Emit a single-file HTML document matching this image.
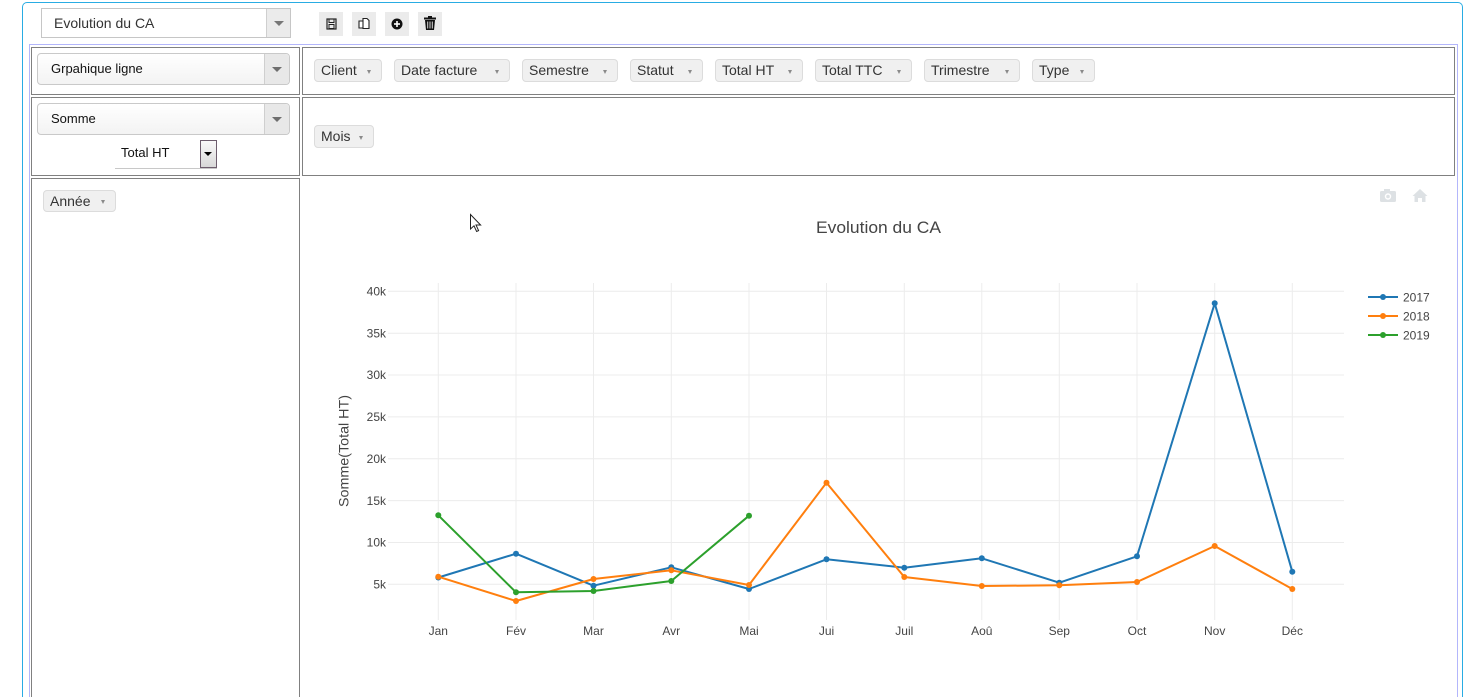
<!DOCTYPE html>
<html><head><meta charset="utf-8">
<style>
*{box-sizing:border-box;margin:0;padding:0}
html,body{width:1467px;height:697px;overflow:hidden;background:#fff;font-family:"Liberation Sans",Arial,sans-serif;}
#wrap{position:relative;width:1467px;height:697px;overflow:hidden}
.abs{position:absolute}
.outer{left:22px;top:2px;width:1441px;height:695px;border:1px solid #29ace3;border-bottom:none;border-radius:5px 5px 0 0}
.inner{left:29px;top:44px;width:1429px;height:653px;border:1px solid #b3b6fb;border-bottom:none}
.cell{border:1px solid #808080}
.sel{border:1px solid #c9c9c9;background:linear-gradient(#ffffff,#f3f3f3);border-radius:4px;font-size:13px;color:#111}
.sel .btn{position:absolute;right:0;top:0;bottom:0;width:25px;background:#e8e8e8;border-left:1px solid #cfcfcf;border-radius:0 4px 4px 0}
.tri{position:absolute;width:0;height:0;border-left:5px solid transparent;border-right:5px solid transparent;border-top:5px solid #6e6e6e}
.pill{position:absolute;height:23px;border:1px solid #dcdcdc;border-radius:4px;background:#f0f0f0;font-size:14px;color:#333;line-height:21px;padding-left:6px;white-space:nowrap}
.pill .c{position:absolute;right:10px;top:10px;width:0;height:0;border-left:2.5px solid transparent;border-right:2.5px solid transparent;border-top:4px solid #8a8a8a}
.ib{position:absolute;top:12px;width:24px;height:24px;background:#ebebeb}
</style></head><body>
<div id="wrap">
<div class="abs outer"></div>
<div class="abs inner"></div>

<!-- top select -->
<div class="abs" style="left:41px;top:8px;width:250px;height:30px;border:1px solid #c6c6c6;background:#fff;font-size:14px;color:#333;line-height:28px;padding-left:12px">Evolution du CA
 <div style="position:absolute;right:0;top:0;width:24px;height:28px;background:#ebebeb;border-left:1px solid #cfcfcf"><div class="tri" style="left:7px;top:12px;border-top-color:#777"></div></div>
</div>

<!-- icon buttons -->
<div class="ib" style="left:319px"><svg width="24" height="24"><rect x="8" y="7" width="9" height="10" fill="none" stroke="#222" stroke-width="1.2"/><rect x="10" y="7" width="5" height="3.5" fill="none" stroke="#222" stroke-width="1"/><rect x="10" y="12.5" width="5" height="4" fill="none" stroke="#222" stroke-width="1"/></svg></div>
<div class="ib" style="left:352px"><svg width="24" height="24"><path d="M7 9 h4 l2 2 v5 h-6z" fill="#fff" stroke="#222" stroke-width="1.1"/><path d="M11 6.5 h4 l2 2 v8 h-6z" fill="#fff" stroke="#222" stroke-width="1.1"/></svg></div>
<div class="ib" style="left:385px"><svg width="24" height="24"><circle cx="12" cy="12" r="5.5" fill="#111"/><rect x="9" y="11.2" width="6" height="1.6" fill="#fff"/><rect x="11.2" y="9" width="1.6" height="6" fill="#fff"/></svg></div>
<div class="ib" style="left:418px"><svg width="24" height="24"><rect x="6" y="5.5" width="12" height="2" fill="#111"/><rect x="10" y="4" width="4" height="2" fill="#111"/><path d="M7 8 h10 l-1 10 h-8z" fill="#111"/><rect x="9.2" y="9.5" width="1" height="7" fill="#ddd"/><rect x="11.5" y="9.5" width="1" height="7" fill="#ddd"/><rect x="13.8" y="9.5" width="1" height="7" fill="#ddd"/></svg></div>

<!-- left cells -->
<div class="abs cell" style="left:31px;top:47px;width:269px;height:48px"></div>
<div class="abs cell" style="left:31px;top:97px;width:269px;height:79px"></div>
<div class="abs cell" style="left:31px;top:178px;width:269px;height:519px;border-bottom:none"></div>
<!-- right cells -->
<div class="abs cell" style="left:302px;top:47px;width:1153px;height:48px"></div>
<div class="abs cell" style="left:302px;top:97px;width:1153px;height:79px"></div>

<div class="abs sel" style="left:37px;top:53px;width:253px;height:32px;line-height:30px;padding-left:13px">Grpahique ligne<div class="btn"><div class="tri" style="left:7px;top:13px"></div></div></div>
<div class="abs sel" style="left:37px;top:103px;width:253px;height:32px;line-height:30px;padding-left:13px">Somme<div class="btn"><div class="tri" style="left:7px;top:13px"></div></div></div>

<div class="abs" style="left:115px;top:140px;width:102px;height:29px;border-bottom:1px solid #c8c8c8"></div>
<div class="abs" style="left:121px;top:145px;font-size:13px;color:#111">Total HT</div>
<div class="abs" style="left:200px;top:140px;width:17px;height:28px;border:1px solid #6d5d6d;background:linear-gradient(#fafafa,#d8d8d8)"><div class="tri" style="left:3px;top:11px;border-left-width:4px;border-right-width:4px;border-top:4px solid #000"></div></div>

<div class="pill" style="left:43px;top:190px;width:73px;height:22px;line-height:20px">Année<span class="c" style="top:9px"></span></div>

<div class="pill" style="left:314px;top:59px;width:68px">Client<span class="c"></span></div>
<div class="pill" style="left:394px;top:59px;width:116px">Date facture<span class="c"></span></div>
<div class="pill" style="left:522px;top:59px;width:96px">Semestre<span class="c"></span></div>
<div class="pill" style="left:630px;top:59px;width:73px">Statut<span class="c"></span></div>
<div class="pill" style="left:715px;top:59px;width:88px">Total HT<span class="c"></span></div>
<div class="pill" style="left:815px;top:59px;width:97px">Total TTC<span class="c"></span></div>
<div class="pill" style="left:924px;top:59px;width:96px">Trimestre<span class="c"></span></div>
<div class="pill" style="left:1032px;top:59px;width:63px">Type<span class="c"></span></div>
<div class="pill" style="left:314px;top:125px;width:60px">Mois<span class="c"></span></div>

<svg class="abs" style="left:0;top:0" width="1467" height="697" font-family="Liberation Sans, Arial, sans-serif">
 <!-- modebar icons -->
 <g fill="#dde1e4">
  <rect x="1380" y="191" width="16" height="11" rx="1.5"/>
  <rect x="1384" y="189" width="6" height="3"/>
  <circle cx="1388" cy="196.5" r="3.2" fill="#fff"/>
  <circle cx="1388" cy="196.5" r="1.8" fill="#dde1e4"/>
  <path d="M1412.5 196 L1420 189 L1427.5 196 L1425.5 196 L1425.5 202 L1422 202 L1422 198 L1418 198 L1418 202 L1414.5 202 L1414.5 196 Z"/>
 </g>
 <!-- title -->
 <text x="878.5" y="233" text-anchor="middle" font-size="17" fill="#444" textLength="125" lengthAdjust="spacingAndGlyphs">Evolution du CA</text>
 <!-- grid -->
 <g stroke="#ececec" stroke-width="1">
  <line x1="388" x2="1344" y1="291.3" y2="291.3"/>
  <line x1="388" x2="1344" y1="333.2" y2="333.2"/>
  <line x1="388" x2="1344" y1="375" y2="375"/>
  <line x1="388" x2="1344" y1="416.9" y2="416.9"/>
  <line x1="388" x2="1344" y1="458.7" y2="458.7"/>
  <line x1="388" x2="1344" y1="500.6" y2="500.6"/>
  <line x1="388" x2="1344" y1="542.5" y2="542.5"/>
  <line x1="388" x2="1344" y1="584.3" y2="584.3"/>
  <line y1="283" y2="620" x1="438.3" x2="438.3"/>
  <line y1="283" y2="620" x1="516" x2="516"/>
  <line y1="283" y2="620" x1="593.5" x2="593.5"/>
  <line y1="283" y2="620" x1="671.3" x2="671.3"/>
  <line y1="283" y2="620" x1="749" x2="749"/>
  <line y1="283" y2="620" x1="826.5" x2="826.5"/>
  <line y1="283" y2="620" x1="904.3" x2="904.3"/>
  <line y1="283" y2="620" x1="981.8" x2="981.8"/>
  <line y1="283" y2="620" x1="1059.3" x2="1059.3"/>
  <line y1="283" y2="620" x1="1137" x2="1137"/>
  <line y1="283" y2="620" x1="1214.7" x2="1214.7"/>
  <line y1="283" y2="620" x1="1292.3" x2="1292.3"/>
 </g>
 <!-- y labels -->
 <g font-size="12" fill="#444" text-anchor="end">
  <text x="386" y="295.5">40k</text>
  <text x="386" y="337.4">35k</text>
  <text x="386" y="379.2">30k</text>
  <text x="386" y="421.1">25k</text>
  <text x="386" y="462.9">20k</text>
  <text x="386" y="504.8">15k</text>
  <text x="386" y="546.7">10k</text>
  <text x="386" y="588.5">5k</text>
 </g>
 <!-- x labels -->
 <g font-size="12" fill="#444" text-anchor="middle">
  <text x="438.3" y="635">Jan</text>
  <text x="516" y="635">Fév</text>
  <text x="593.5" y="635">Mar</text>
  <text x="671.3" y="635">Avr</text>
  <text x="749" y="635">Mai</text>
  <text x="826.5" y="635">Jui</text>
  <text x="904.3" y="635">Juil</text>
  <text x="981.8" y="635">Aoû</text>
  <text x="1059.3" y="635">Sep</text>
  <text x="1137" y="635">Oct</text>
  <text x="1214.7" y="635">Nov</text>
  <text x="1292.3" y="635">Déc</text>
 </g>
 <text transform="translate(348.5,451) rotate(-90)" text-anchor="middle" font-size="14" fill="#444" textLength="112" lengthAdjust="spacingAndGlyphs">Somme(Total HT)</text>
 <!-- series -->
 <g fill="none" stroke-width="2" stroke-linejoin="round">
  <polyline stroke="#1f77b4" points="438.3,577.5 516,553.7 593.5,585.7 671.3,567.3 749,589 826.5,559.3 904.3,567.7 981.8,558.3 1059.3,582.7 1137,556.3 1214.7,303.3 1292.3,571.7"/>
 </g>
 <g fill="#1f77b4">
  <circle cx="438.3" cy="577.5" r="3"/><circle cx="516" cy="553.7" r="3"/><circle cx="593.5" cy="585.7" r="3"/><circle cx="671.3" cy="567.3" r="3"/><circle cx="749" cy="589" r="3"/><circle cx="826.5" cy="559.3" r="3"/><circle cx="904.3" cy="567.7" r="3"/><circle cx="981.8" cy="558.3" r="3"/><circle cx="1059.3" cy="582.7" r="3"/><circle cx="1137" cy="556.3" r="3"/><circle cx="1214.7" cy="303.3" r="3"/><circle cx="1292.3" cy="571.7" r="3"/>
 </g>
 <g fill="none" stroke-width="2" stroke-linejoin="round">
  <polyline stroke="#ff7f0e" points="438.3,576.7 516,601 593.5,579 671.3,570.3 749,585 826.5,482.7 904.3,577 981.8,586 1059.3,585.3 1137,582 1214.7,546 1292.3,589"/>
 </g>
 <g fill="#ff7f0e">
  <circle cx="438.3" cy="576.7" r="3"/><circle cx="516" cy="601" r="3"/><circle cx="593.5" cy="579" r="3"/><circle cx="671.3" cy="570.3" r="3"/><circle cx="749" cy="585" r="3"/><circle cx="826.5" cy="482.7" r="3"/><circle cx="904.3" cy="577" r="3"/><circle cx="981.8" cy="586" r="3"/><circle cx="1059.3" cy="585.3" r="3"/><circle cx="1137" cy="582" r="3"/><circle cx="1214.7" cy="546" r="3"/><circle cx="1292.3" cy="589" r="3"/>
 </g>
 <g fill="none" stroke-width="2" stroke-linejoin="round">
  <polyline stroke="#2ca02c" points="438.3,515.3 516,592.3 593.5,591 671.3,581 749,515.7"/>
 </g>
 <g fill="#2ca02c">
  <circle cx="438.3" cy="515.3" r="3"/><circle cx="516" cy="592.3" r="3"/><circle cx="593.5" cy="591" r="3"/><circle cx="671.3" cy="581" r="3"/><circle cx="749" cy="515.7" r="3"/>
 </g>
 <!-- legend -->
 <g stroke-width="2">
  <line x1="1368" x2="1398" y1="297" y2="297" stroke="#1f77b4"/>
  <line x1="1368" x2="1398" y1="316" y2="316" stroke="#ff7f0e"/>
  <line x1="1368" x2="1398" y1="335" y2="335" stroke="#2ca02c"/>
 </g>
 <circle cx="1383" cy="297" r="3" fill="#1f77b4"/>
 <circle cx="1383" cy="316" r="3" fill="#ff7f0e"/>
 <circle cx="1383" cy="335" r="3" fill="#2ca02c"/>
 <g font-size="12" fill="#444">
  <text x="1403" y="301.5">2017</text>
  <text x="1403" y="320.5">2018</text>
  <text x="1403" y="339.5">2019</text>
 </g>
 <!-- cursor -->
 <path d="M470.5 214.5 L470.5 229 L474 225.8 L476.6 231.5 L478.6 230.6 L476 225 L480.6 225 Z" fill="#fff" stroke="#222" stroke-width="1"/>
</svg>
</div>
</body></html>
